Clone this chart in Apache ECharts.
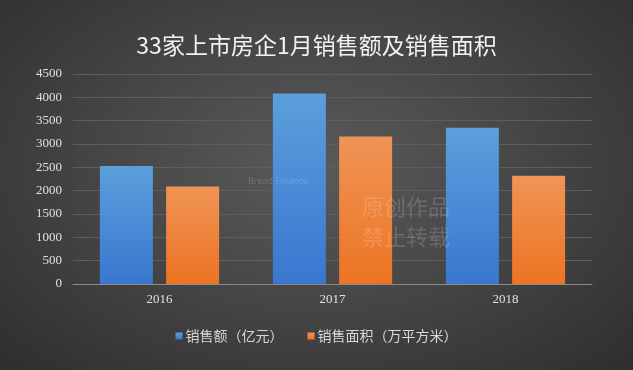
<!DOCTYPE html>
<html><head><meta charset="utf-8">
<script src="https://cdn.jsdelivr.net/npm/echarts@6/dist/echarts.min.js"></script>
<style>
html,body{margin:0;padding:0;}
#c{width:633px;height:370px;background:radial-gradient(ellipse at 50% 45%, #5a5a5a 0%, #474747 45%, #2e2e2e 100%);}
</style></head>
<body><div id="c"></div>
<script>
const categories = ['2016', '2017', '2018'];
const salesAmount = [2530, 4080, 3350];
const salesArea = [2090, 3160, 2320];
const seriesNames = ['销售额（亿元）', '销售面积（万平方米）'];
const titleText = '33家上市房企1月销售额及销售面积';

const chart = echarts.init(document.getElementById('c'), null, {renderer: 'canvas'});
const serif = '"Liberation Serif", "DejaVu Serif", serif';
chart.setOption({
  backgroundColor: 'transparent',
  title: {
    text: titleText, left: 'center', top: 29,
    textStyle: {color: '#f2f2f2', fontSize: 23, fontWeight: 'normal', fontFamily: '"Noto Sans CJK SC", sans-serif'}
  },
  legend: {
    data: seriesNames, bottom: 22, left: 'center', itemWidth: 7, itemHeight: 7, itemGap: 24, icon: 'rect',
    textStyle: {color: '#d8d8d8', fontSize: 14, fontFamily: '"Noto Sans CJK SC", sans-serif', padding: [0,0,0,-2]}
  },
  grid: {left: 73, right: 41, top: 74, bottom: 86, containLabel: false},
  xAxis: {
    type: 'category', data: categories,
    axisLine: {lineStyle: {color: '#8a8a8a'}},
    axisTick: {show: false},
    axisLabel: {color: '#e0e0e0', fontSize: 13, fontFamily: serif, margin: 9}
  },
  yAxis: {
    type: 'value', min: 0, max: 4500, interval: 500,
    axisLine: {show: false}, axisTick: {show: false},
    axisLabel: {color: '#e0e0e0', fontSize: 13, fontFamily: serif, margin: 11, formatter: v => String(v)},
    splitLine: {lineStyle: {color: '#5e5e5e'}}
  },
  series: [
    {name: seriesNames[0], type: 'bar', data: salesAmount, barWidth: 53, barGap: '25%',
     itemStyle: {color: new echarts.graphic.LinearGradient(0,0,0,1,[{offset:0,color:'#5b9fdc'},{offset:1,color:'#3a76cf'}])}},
    {name: seriesNames[1], type: 'bar', data: salesArea, barWidth: 53,
     itemStyle: {color: new echarts.graphic.LinearGradient(0,0,0,1,[{offset:0,color:'#f09456'},{offset:1,color:'#ec7423'}])}}
  ],
  graphic: [
    {type: 'text', z: 100, left: 362, top: 192, style: {text: '原创作品\n禁止转载', fill: 'rgba(255,255,255,0.16)', font: '22px "Noto Sans CJK SC"', lineHeight: 30}},
    {type: 'text', z: 100, left: 248, top: 177, style: {text: 'Bread Finance', fill: 'rgba(255,255,255,0.16)', font: '9px "Noto Sans"'}}
  ]
});
</script></body></html>
